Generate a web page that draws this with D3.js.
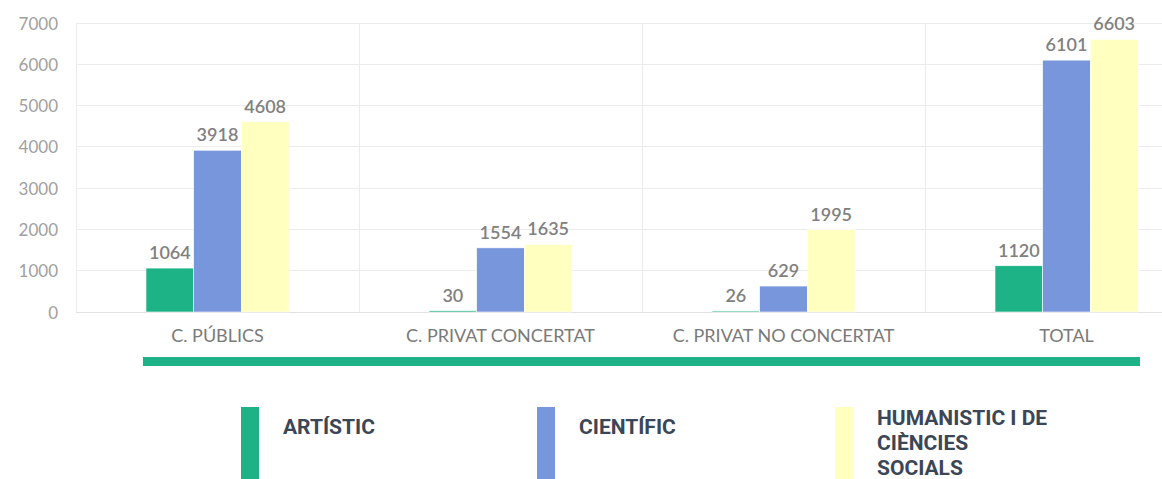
<!DOCTYPE html>
<html><head><meta charset="utf-8">
<script src="https://cdn.jsdelivr.net/npm/d3@7"></script>
<style>
html,body{margin:0;padding:0;background:#fff;}
svg{display:block;}
</style></head>
<body>
<svg id="chart" width="1162" height="479"></svg>
<script>
const categories = ["C. PÚBLICS", "C. PRIVAT CONCERTAT", "C. PRIVAT NO CONCERTAT", "TOTAL"];
const seriesNames = ["ARTÍSTIC", "CIENTÍFIC", "HUMANISTIC I DE CIÈNCIES SOCIALS"];
const artistic = [1064, 30, 26, 1120];
const cientific = [3918, 1554, 629, 6101];
const humanistic = [4608, 1635, 1995, 6603];
const yTicks = [0, 1000, 2000, 3000, 4000, 5000, 6000, 7000];
const legendLines = [["ARTÍSTIC"], ["CIENTÍFIC"], ["HUMANISTIC I DE", "CIÈNCIES", "SOCIALS"]];
const colors = ["#1db386", "#7896dc", "#ffffc0"];

const series = [artistic, cientific, humanistic];
const svg = d3.select("#chart");

const plotLeft = 76, plotTop = 23, plotBottom = 312, plotRightFull = 1208;
const y = d3.scaleLinear().domain([0, 7000]).range([plotBottom, plotTop]);
const x = d3.scaleBand().domain(categories).range([plotLeft, plotRightFull]).padding(0);
const groupW = 143;
const xs = d3.scaleBand().domain(d3.range(series.length)).range([0, groupW]).padding(0);
const offset = (x.bandwidth() - groupW) / 2;

// horizontal grid
svg.append("g").selectAll("line").data(yTicks).join("line")
  .attr("x1", plotLeft).attr("x2", 1162)
  .attr("y1", d => y(d)).attr("y2", d => y(d))
  .attr("stroke", d => d === 0 ? "#e2e2e2" : "#ececec").attr("stroke-width", 1)
  .attr("shape-rendering", "crispEdges");

// vertical grid at band boundaries
svg.append("g").selectAll("line").data(categories).join("line")
  .attr("x1", d => x(d)).attr("x2", d => x(d))
  .attr("y1", plotTop).attr("y2", plotBottom)
  .attr("stroke", "#ececec").attr("stroke-width", 1)
  .attr("shape-rendering", "crispEdges");

// y axis labels
const yAxis = d3.axisLeft(y).tickValues(yTicks).tickFormat(d3.format("d")).tickSize(0).tickPadding(0);
const ya = svg.append("g").attr("transform", "translate(58,0)").call(yAxis);
ya.select(".domain").remove();
ya.selectAll("text").attr("font-family", "Lato").attr("font-size", 17)
  .attr("fill", "#a0a0a0").attr("dy", "0.36em");

// x axis labels
const xAxis = d3.axisBottom(x).tickSize(0).tickPadding(0);
const xa = svg.append("g").attr("transform", "translate(0,342)").call(xAxis);
xa.select(".domain").remove();
xa.selectAll("text").attr("font-family", "Lato").attr("font-size", 18)
  .attr("fill", "#7a7a7a").attr("dy", 0);

// bars
const flat = [];
categories.forEach((c, i) => series.forEach((s, j) => flat.push({c, j, v: s[i]})));
svg.append("g").selectAll("rect").data(flat).join("rect")
  .attr("x", d => x(d.c) + offset + xs(d.j))
  .attr("width", xs.bandwidth())
  .attr("y", d => y(d.v))
  .attr("height", d => plotBottom - y(d.v))
  .attr("fill", d => colors[d.j])
  .attr("stroke", "#ffffff").attr("stroke-width", 0.6);

// value labels
svg.append("g").selectAll("text").data(flat).join("text")
  .attr("x", d => x(d.c) + offset + xs(d.j) + xs.bandwidth() / 2)
  .attr("y", d => y(d.v) - 9)
  .attr("text-anchor", "middle")
  .attr("font-family", "Lato").attr("font-size", 18).attr("font-weight", 600)
  .attr("fill", "#808080")
  .text(d => d.v);

// green divider
svg.append("rect").attr("x", 143).attr("y", 357).attr("width", 997).attr("height", 9)
  .attr("fill", colors[0]);

// legend
const legendX = [241, 537, 835];
const lg = svg.append("g");
seriesNames.forEach((name, i) => {
  lg.append("rect").attr("x", legendX[i]).attr("y", 407).attr("width", 18).attr("height", 72)
    .attr("fill", colors[i]);
  const t = lg.append("text").attr("font-family", "Roboto").attr("font-weight", 700)
    .attr("font-size", 21).attr("fill", "#3b4656");
  const lines = legendLines[i];
  const baseY = lines.length > 1 ? 425 : 434;
  lines.forEach((ln, k) => {
    t.append("tspan").attr("x", legendX[i] + 42).attr("y", baseY + k * 25).text(ln);
  });
});
</script>
</body></html>
